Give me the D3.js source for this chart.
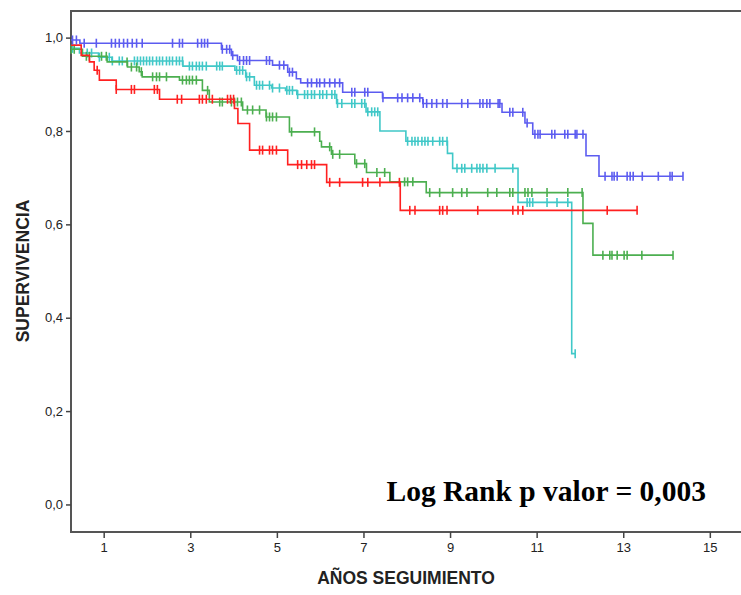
<!DOCTYPE html>
<html>
<head>
<meta charset="utf-8">
<script src="https://cdn.jsdelivr.net/npm/d3@7"></script>
<style>
  body { margin: 0; background: #fff; }
  svg { display: block; }
</style>
</head>
<body>
<div id="chart"></div>
<script>
// Kaplan-Meier curves, 4 groups (years of follow-up vs survival)

// x ticks / y ticks
const xTicks = [1, 3, 5, 7, 9, 11, 13, 15];
const yTicks = [0, 0.2, 0.4, 0.6, 0.8, 1.0];

// step events: [time, survival after the step]
const blueStart = 0.995;
const blueSteps = [[0.45, 0.988], [3.72, 0.975], [3.95, 0.962], [4.09, 0.951], [4.90, 0.941],
  [5.25, 0.926], [5.45, 0.912], [5.55, 0.903], [6.52, 0.883], [7.44, 0.871], [8.37, 0.859],
  [10.20, 0.840], [10.73, 0.817], [10.91, 0.793], [12.14, 0.747], [12.44, 0.703]];
const blueEnd = 14.38;
const blueCensored = [0.28, 0.37, 0.55, 0.83, 1.18, 1.27, 1.36, 1.46, 1.55, 1.66, 1.76, 1.89,
  2.59, 2.75, 2.82, 3.17, 3.26, 3.33, 3.40, 3.74, 3.84, 3.91, 3.98, 4.14, 4.23, 4.30, 4.37,
  4.76, 4.83, 5.06, 5.16, 5.29, 5.36, 5.71, 5.80, 5.92, 5.99, 6.10, 6.22, 6.34, 6.45, 6.73,
  6.80, 7.03, 7.10, 7.45, 7.79, 7.89, 8.02, 8.14, 8.30, 8.38, 8.46, 8.58, 8.69, 8.83, 8.93,
  9.27, 9.41, 9.69, 9.76, 9.85, 9.92, 10.11, 10.15, 10.38, 10.45, 10.68, 10.78, 10.96, 11.03,
  11.08, 11.35, 11.42, 11.65, 11.72, 11.89, 11.93, 12.07, 12.58, 12.74, 12.79, 12.86, 13.09,
  13.16, 13.23, 13.44, 13.81, 14.08, 14.13, 14.38];

const cyanStart = 0.977;
const cyanSteps = [[0.44, 0.967], [0.88, 0.958], [1.19, 0.950], [2.83, 0.939], [4.03, 0.930],
  [4.28, 0.916], [4.48, 0.898], [4.88, 0.892], [5.20, 0.887], [5.46, 0.878], [6.38, 0.859],
  [7.06, 0.841], [7.38, 0.800], [7.98, 0.778], [8.94, 0.752], [9.06, 0.720], [10.57, 0.647],
  [11.81, 0.323]];
const cyanEnd = 11.89;
const cyanCensored = [0.28, 0.62, 0.72, 0.90, 1.13, 1.20, 1.36, 1.43, 1.71, 1.78, 1.85, 1.92,
  1.99, 2.06, 2.13, 2.22, 2.29, 2.36, 2.45, 2.52, 2.59, 2.68, 2.75, 2.82, 2.98, 3.05, 3.14,
  3.21, 3.28, 3.37, 3.61, 3.68, 3.74, 4.07, 4.14, 4.21, 4.30, 4.37, 4.53, 4.60, 4.67, 4.83,
  4.90, 5.06, 5.23, 5.29, 5.36, 5.48, 5.64, 5.71, 5.80, 5.87, 5.99, 6.06, 6.15, 6.27, 6.34,
  6.40, 6.50, 6.73, 6.80, 6.96, 7.03, 7.10, 7.19, 7.26, 7.33, 8.02, 8.12, 8.19, 8.26, 8.35,
  8.42, 8.49, 8.60, 8.76, 8.83, 8.93, 9.16, 9.27, 9.34, 9.50, 9.62, 9.69, 9.76, 9.85, 10.04,
  10.45, 10.78, 10.84, 10.91, 11.24, 11.47, 11.72, 11.89];

const greenStart = 0.975;
const greenSteps = [[0.51, 0.960], [1.08, 0.948], [1.55, 0.937], [1.82, 0.927], [1.89, 0.916],
  [2.75, 0.909], [3.28, 0.887], [3.44, 0.862], [4.21, 0.845], [4.75, 0.830], [5.29, 0.798],
  [5.99, 0.778], [6.03, 0.766], [6.26, 0.750], [6.80, 0.730], [7.07, 0.711], [7.61, 0.691],
  [8.45, 0.668], [12.07, 0.602], [12.30, 0.534]];
const greenEnd = 14.15;
const greenCensored = [0.25, 0.32, 0.60, 0.67, 0.95, 1.06, 1.54, 1.64, 1.76, 1.87, 2.13, 2.22,
  2.29, 2.45, 2.82, 2.91, 2.98, 3.05, 3.14, 3.40, 3.68, 3.74, 3.95, 4.02, 4.09, 4.18, 4.32,
  4.44, 4.60, 4.76, 4.83, 4.90, 4.99, 5.34, 5.87, 6.22, 6.29, 6.45, 6.84, 7.03, 7.31, 7.49,
  7.95, 8.02, 8.14, 8.53, 8.76, 9.06, 9.27, 9.39, 9.87, 10.08, 10.38, 10.45, 10.73, 10.80,
  10.89, 11.24, 11.72, 12.05, 12.53, 12.69, 12.74, 12.86, 13.02, 13.09, 13.43, 14.15];

const redStart = 0.984;
const redSteps = [[0.48, 0.962], [0.67, 0.948], [0.78, 0.930], [0.90, 0.909], [1.29, 0.889],
  [2.29, 0.868], [4.02, 0.848], [4.10, 0.816], [4.37, 0.759], [5.25, 0.728], [6.15, 0.690],
  [7.85, 0.630]];
const redEnd = 13.32;
const redCensored = [0.85, 1.29, 1.64, 1.71, 2.17, 2.24, 2.70, 2.80, 3.21, 3.28, 3.37, 3.51,
  3.86, 3.93, 4.00, 4.60, 4.67, 4.83, 4.90, 4.99, 5.48, 5.57, 5.69, 5.80, 5.87, 6.22, 6.45,
  6.98, 7.10, 7.38, 7.83, 8.07, 8.19, 8.76, 8.83, 8.93, 9.64, 10.45, 10.57, 10.68, 12.63, 13.32];

const groups = [
  {color: "#40c8c8", start: cyanStart, steps: cyanSteps, end: cyanEnd, censored: cyanCensored},
  {color: "#4caf50", start: greenStart, steps: greenSteps, end: greenEnd, censored: greenCensored},
  {color: "#ff2020", start: redStart, steps: redSteps, end: redEnd, censored: redCensored},
  {color: "#5c5cf0", start: blueStart, steps: blueSteps, end: blueEnd, censored: blueCensored}
];

const width = 741, height = 595;
const plot = {left: 71, right: 741, top: 11, bottom: 532};

const x = d3.scaleLinear().domain([0.245, 15.72]).range([plot.left, plot.right]);
const y = d3.scaleLinear().domain([-0.059, 1.057]).range([plot.bottom, plot.top]);

const svg = d3.select("#chart").append("svg")
  .attr("width", width)
  .attr("height", height);

// frame (right side runs off the picture)
svg.append("path")
  .attr("d", `M${plot.right + 10},${plot.top}H${plot.left}V${plot.bottom}H${plot.right + 10}`)
  .attr("fill", "none")
  .attr("stroke", "#555")
  .attr("stroke-width", 2);

// y axis
const yAxis = svg.append("g")
  .attr("transform", `translate(${plot.left},0)`)
  .call(d3.axisLeft(y).tickValues(yTicks).tickSize(5).tickFormat(d => d3.format(".1f")(d).replace(".", ",")));
yAxis.select(".domain").remove();
yAxis.selectAll(".tick line").attr("stroke", "#444").attr("stroke-width", 1.5);
yAxis.selectAll(".tick text")
  .attr("x", -8)
  .attr("font-family", "'Liberation Sans', Arial, sans-serif")
  .attr("font-size", "13px")
  .attr("fill", "#222");

// x axis
const xAxis = svg.append("g")
  .attr("transform", `translate(0,${plot.bottom})`)
  .call(d3.axisBottom(x).tickValues(xTicks).tickSize(6));
xAxis.select(".domain").remove();
xAxis.selectAll(".tick line").attr("stroke", "#444").attr("stroke-width", 1.5);
xAxis.selectAll(".tick text")
  .attr("y", 11)
  .attr("font-family", "'Liberation Sans', Arial, sans-serif")
  .attr("font-size", "13px")
  .attr("fill", "#222");

// survival value at time t
function survivalAt(g, t) {
  let s = g.start;
  g.steps.forEach(d => { if (d[0] <= t) s = d[1]; });
  return s;
}

const stepLine = d3.line()
  .x(d => x(Math.max(d[0], x.domain()[0])))
  .y(d => y(d[1]))
  .curve(d3.curveStepAfter);

groups.forEach(g => {
  const pts = [[0, g.start]].concat(g.steps, [[g.end, g.steps[g.steps.length - 1][1]]]);
  svg.append("path")
    .datum(pts)
    .attr("d", stepLine)
    .attr("fill", "none")
    .attr("stroke", g.color)
    .attr("stroke-width", 1.6);

  svg.append("g").selectAll("line")
    .data(g.censored)
    .join("line")
    .attr("x1", d => x(d))
    .attr("x2", d => x(d))
    .attr("y1", d => y(survivalAt(g, d)) - 4.5)
    .attr("y2", d => y(survivalAt(g, d)) + 4.5)
    .attr("stroke", g.color)
    .attr("stroke-width", 1.6);
});

// axis titles
svg.append("text")
  .attr("x", 406)
  .attr("y", 584)
  .attr("text-anchor", "middle")
  .attr("font-family", "'Liberation Sans', Arial, sans-serif")
  .attr("font-weight", "bold")
  .attr("font-size", "17.5px")
  .attr("fill", "#222")
  .text("AÑOS SEGUIMIENTO");

svg.append("text")
  .attr("transform", "translate(29,271) rotate(-90)")
  .attr("text-anchor", "middle")
  .attr("font-family", "'Liberation Sans', Arial, sans-serif")
  .attr("font-weight", "bold")
  .attr("font-size", "17.5px")
  .attr("fill", "#222")
  .text("SUPERVIVENCIA");

svg.append("text")
  .attr("x", 706)
  .attr("y", 501)
  .attr("text-anchor", "end")
  .attr("font-family", "'Liberation Serif', 'Times New Roman', serif")
  .attr("font-weight", "bold")
  .attr("font-size", "29.5px")
  .attr("fill", "#000")
  .text("Log Rank p valor = 0,003");
</script>
</body>
</html>
